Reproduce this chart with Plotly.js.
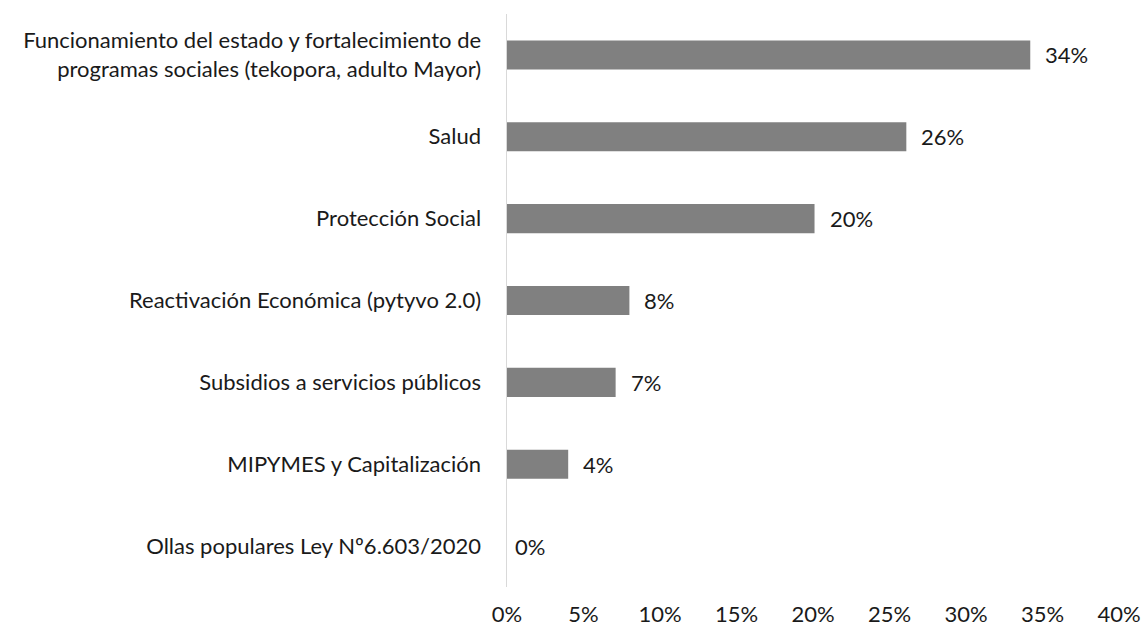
<!DOCTYPE html>
<html>
<head>
<meta charset="utf-8">
<script src="https://cdn.plot.ly/plotly-3.0.1.min.js"></script>
<style>html,body{margin:0;padding:0;background:#fff;}#chart{width:1146px;height:627px;}</style>
</head>
<body>
<div id="chart"></div>
<script>
const categories = [
  "Ollas populares Ley Nº6.603/2020",
  "MIPYMES y Capitalización",
  "Subsidios a servicios públicos",
  "Reactivación Económica (pytyvo 2.0)",
  "Protección Social",
  "Salud",
  "Funcionamiento del estado y fortalecimiento de<br>programas sociales (tekopora, adulto Mayor)"
];
const values = [0, 4.0, 7.1, 8.0, 20.1, 26.1, 34.2];
const valueLabels = ["0%", "4%", "7%", "8%", "20%", "26%", "34%"];
const tickValues = [0, 5, 10, 15, 20, 25, 30, 35, 40];
const tickLabels = ["0%", "5%", "10%", "15%", "20%", "25%", "30%", "35%", "40%"];

const font = {family: "Lato, 'Open Sans', sans-serif", size: 22, color: "#1a1a1a"};

const trace = {
  type: "bar",
  orientation: "h",
  y: categories,
  x: values,
  marker: {color: "#808080"},
  hoverinfo: "none"
};

const annotations = values.map((v, i) => ({
  x: v, y: categories[i], xref: "x", yref: "y",
  text: valueLabels[i], showarrow: false,
  xanchor: "left", xshift: v === 0 ? 6 : 13,
  font: font
}));

const layout = {
  width: 1146, height: 627,
  margin: {l: 507, r: 27, t: 14, b: 40},
  paper_bgcolor: "#fff", plot_bgcolor: "#fff",
  bargap: 0.645,
  showlegend: false,
  font: font,
  xaxis: {
    range: [0, 40], tickvals: tickValues, ticktext: tickLabels,
    showgrid: false, zeroline: false, showline: false, ticks: "",
    ticklabelstandoff: 12, fixedrange: true, tickfont: font
  },
  yaxis: {
    showgrid: false, zeroline: false, showline: true, linecolor: "#d9d9d9", linewidth: 1.5,
    ticks: "", ticklabelstandoff: 20, fixedrange: true, tickfont: font,
    automargin: false
  },
  annotations: annotations
};

Plotly.newPlot("chart", [trace], layout, {displayModeBar: false, staticPlot: true});
</script>
</body>
</html>
